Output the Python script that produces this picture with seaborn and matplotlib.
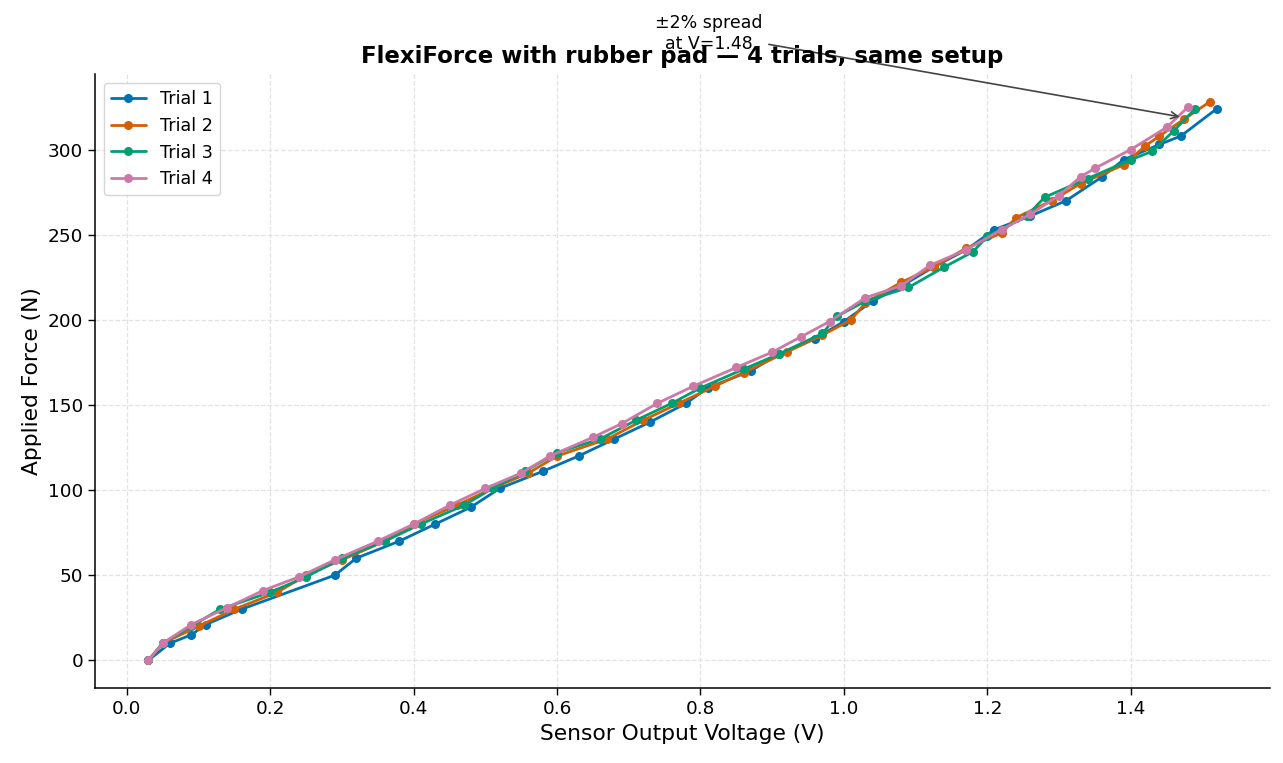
import matplotlib
matplotlib.use('Agg')
import matplotlib.pyplot as plt
import numpy as np
import pandas as pd
import seaborn as sns

# voltages (V) and forces (N), one pair of lists per trial
trial1_v = [0.03, 0.06, 0.09, 0.11, 0.16, 0.29, 0.32, 0.38, 0.43, 0.48, 0.52, 0.58, 0.63,
            0.68, 0.73, 0.78, 0.81, 0.87, 0.91, 0.96, 1.00, 1.04, 1.085, 1.125, 1.17, 1.21,
            1.26, 1.31, 1.36, 1.39, 1.44, 1.47, 1.52]
trial1_f = [0, 10, 15, 21, 30, 50, 60, 70, 80, 90, 101, 111, 120,
            130, 140, 151, 160, 170, 180, 189, 199, 211, 221, 231, 241, 253,
            261, 270, 284, 294, 303, 308, 324]

trial2_v = [0.03, 0.05, 0.10, 0.15, 0.21, 0.25, 0.30, 0.36, 0.40, 0.46, 0.51, 0.56, 0.60,
            0.67, 0.72, 0.77, 0.82, 0.86, 0.92, 0.97, 1.01, 1.03, 1.08, 1.125, 1.17, 1.22,
            1.24, 1.29, 1.33, 1.39, 1.42, 1.44, 1.475, 1.51]
trial2_f = [0, 10, 20, 30, 40, 50, 59, 70, 80, 91, 101, 110, 120,
            130, 141, 151, 161, 169, 181, 191, 200, 210, 222, 231, 242, 251,
            260, 270, 280, 291, 302, 308, 318, 328]

trial3_v = [0.03, 0.05, 0.09, 0.13, 0.20, 0.25, 0.30, 0.36, 0.41, 0.47, 0.51, 0.555, 0.60,
            0.66, 0.71, 0.76, 0.80, 0.86, 0.91, 0.97, 0.99, 1.03, 1.09, 1.14, 1.18, 1.20,
            1.255, 1.28, 1.34, 1.40, 1.43, 1.46, 1.49]
trial3_f = [0, 10, 20, 30, 40, 49, 60, 70, 80, 91, 101, 111, 122,
            130, 141, 151, 160, 171, 180, 192, 202, 211, 219, 231, 240, 249,
            261, 272, 283, 294, 299, 311, 324]

trial4_v = [0.03, 0.05, 0.09, 0.14, 0.19, 0.24, 0.29, 0.35, 0.40, 0.45, 0.50, 0.55, 0.59,
            0.65, 0.69, 0.74, 0.79, 0.85, 0.90, 0.94, 0.98, 1.03, 1.08, 1.12, 1.17, 1.22,
            1.26, 1.30, 1.33, 1.35, 1.40, 1.45, 1.48]
trial4_f = [0, 10, 21, 31, 41, 49, 59, 70, 80, 91, 101, 110, 120,
            131, 139, 151, 161, 172, 181, 190, 199, 213, 220, 232, 241, 253,
            262, 273, 284, 289, 300, 313, 325]

trial_names = ['Trial 1', 'Trial 2', 'Trial 3', 'Trial 4']
colors = ['#0072B2', '#D55E00', '#009E73', '#CC79A7']

frames = []
for name, v, f in zip(trial_names,
                      [trial1_v, trial2_v, trial3_v, trial4_v],
                      [trial1_f, trial2_f, trial3_f, trial4_f]):
    frames.append(pd.DataFrame({'Voltage': v, 'Force': f, 'Trial': name}))
df = pd.concat(frames, ignore_index=True)

sns.set_style('ticks', {'axes.edgecolor': 'black', 'text.color': 'black',
                        'axes.labelcolor': 'black', 'xtick.color': 'black',
                        'ytick.color': 'black'})
plt.rcParams['font.family'] = ['DejaVu Sans']

fig, ax = plt.subplots(figsize=(12.83, 7.63), dpi=100)
sns.lineplot(data=df, x='Voltage', y='Force', hue='Trial', palette=colors,
             marker='o', markersize=6.5, markeredgewidth=0, linewidth=2,
             estimator=None, sort=False, ax=ax)

ax.grid(True, linestyle='--', color='#dddddd', linewidth=0.9, alpha=0.8)
ax.set_xlabel('Sensor Output Voltage (V)', fontsize=15.7)
ax.set_ylabel('Applied Force (N)', fontsize=15.7)
ax.set_title('FlexiForce with rubber pad — 4 trials, same setup',
             fontsize=16.5, fontweight='bold', pad=8)
ax.tick_params(labelsize=13.3, length=5, width=1)
for s in ax.spines.values():
    s.set_linewidth(1.1)
ax.legend(loc='upper left', fontsize=12.7, frameon=True)
sns.despine(ax=ax)

ax.annotate('±2% spread\nat V=1.48', xy=(1.472, 319), xytext=(0.812, 368),
            ha='center', va='center', fontsize=12.5,
            arrowprops=dict(arrowstyle='->', color='#444444', lw=1.2),
            annotation_clip=False)

plt.subplots_adjust(left=0.074, right=0.99, bottom=0.098, top=0.903)
plt.savefig('out.png', dpi=100)
